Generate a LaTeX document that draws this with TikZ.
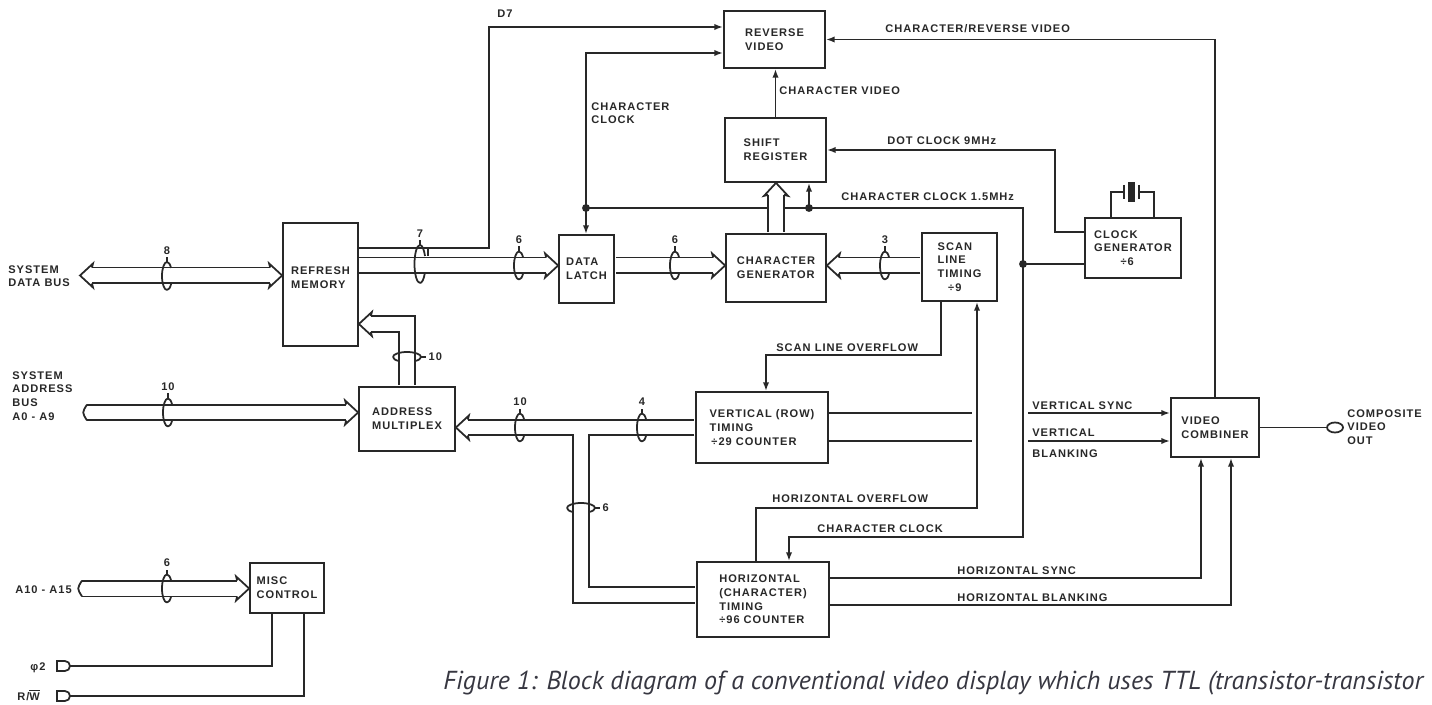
\documentclass[tikz,border=0pt]{standalone}
\usepackage{fontspec}
\newfontfamily\lblfont{Liberation Sans}[LetterSpace=9]
\newfontfamily\capfont{PT Sans}
\usetikzlibrary{arrows.meta,shapes.geometric}

\definecolor{ink}{RGB}{40,40,40}
\definecolor{capink}{RGB}{55,55,65}
\newcommand\lblsize{\lblfont\bfseries\fontsize{6.3}{7.8}\selectfont}

\tikzset{
  sig/.style={draw=ink, line width=1pt},
  arr/.style={sig, -{Latex[length=5pt,width=3.6pt]}},
  block/.style={draw=ink, line width=1pt, align=left, font=\lblsize, text=ink, inner sep=0pt},
  lbl/.style={font=\lblsize, text=ink, inner sep=0pt, align=left},
  bus/.style={draw=ink, line width=1pt, double=white, double distance=0.28cm},
  dot/.style={circle, fill=ink, inner sep=0pt, minimum size=4.5pt},
  term/.style={ellipse, draw=ink, line width=1pt, minimum width=0.32cm, minimum height=0.2cm, inner sep=0pt},
  pics/bhead/.style={code={
    \draw[sig, line join=miter] (-12,-7.9) -- (-13,-12) -- (0,0) -- (-13,12) -- (-12,7.9);
  }},
  pics/hring/.style={code={
    \draw[sig] (0,-14) arc[start angle=270, end angle=90, x radius=5, y radius=14];
    \draw[sig] (0,-14) arc[start angle=270, end angle=325, x radius=5, y radius=14];
    \draw[sig] (0,14) arc[start angle=90, end angle=35, x radius=5, y radius=14];
    \draw[sig] (0,-14) -- (0,-19) node[lbl, anchor=south, yshift=1pt] (-n) {#1};
  }},
  pics/vring/.style={code={
    \draw[sig] (-14,0) arc[start angle=180, end angle=360, x radius=14, y radius=5];
    \draw[sig] (-14,0) arc[start angle=180, end angle=125, x radius=14, y radius=5];
    \draw[sig] (14,0) arc[start angle=0, end angle=55, x radius=14, y radius=5];
    \draw[sig] (14,0) -- (19,0) node[lbl, anchor=west, xshift=1pt] (-n) {#1};
  }},
}

\begin{document}
\begin{tikzpicture}[x=0.02cm, y=-0.02cm]
\useasboundingbox (0,0) rectangle (1432,705);
\fill[white] (0,0) rectangle (1432,705);

% blocks
\node[block, minimum width=2.02cm, minimum height=1.14cm] (rev) at (774.5,39.5) {REVERSE\\VIDEO};
\node[block, minimum width=2.02cm, minimum height=1.28cm] (shift) at (775.5,150) {SHIFT\\REGISTER};
\node[block, minimum width=1.1cm, minimum height=1.36cm] (latch) at (586.5,269) {DATA\\LATCH};
\node[block, minimum width=2cm, minimum height=1.36cm] (chargen) at (776,268) {CHARACTER\\GENERATOR};
\node[block, minimum width=1.5cm, minimum height=1.36cm] (scan) at (959.5,267) {SCAN\\LINE\\TIMING\\\hspace{6pt}÷9};
\node[block, minimum width=1.92cm, minimum height=1.2cm] (clk) at (1133,248) {CLOCK\\GENERATOR\\\hspace{15pt}÷6};
\node[block, minimum width=1.5cm, minimum height=2.46cm] (refresh) at (320.5,284.5) {REFRESH\\MEMORY\\[0pt]};
\node[block, minimum width=1.92cm, minimum height=1.28cm] (addr) at (407,419) {ADDRESS\\MULTIPLEX};
\node[block, minimum width=2.64cm, minimum height=1.42cm] (vert) at (762,427.5) {VERTICAL (ROW)\\TIMING\\\,÷29 COUNTER};
\node[block, minimum width=2.64cm, minimum height=1.5cm] (horiz) at (763,599.5) {HORIZONTAL\\(CHARACTER)\\TIMING\\÷96 COUNTER};
\node[block, minimum width=1.76cm, minimum height=1.18cm] (comb) at (1215,427.5) {VIDEO\\COMBINER};
\node[block, minimum width=1.48cm, minimum height=1cm] (misc) at (287,588) {MISC\\CONTROL};

% D7 and character clock
\coordinate (d7) at (489,248);
\coordinate (d7top) at (489,27);
\draw[arr] (refresh.east |- d7) -- (d7) -- (d7top) -- (d7top -| rev.west);
\coordinate (ccj) at (586,208);
\coordinate (cctop) at (586,53);
\coordinate (ccs) at (809,208);
\coordinate (ccr) at (1023,208);
\coordinate (ccc) at (1023,264);
\coordinate (ccb) at (1023,537);
\coordinate (cch) at (789,537);
\draw[arr] (ccj) -- (cctop) -- (cctop -| rev.west);
\draw[arr] (ccj) -- (ccj |- latch.north);
\draw[arr] (ccj) -- (ccr) -- (ccb) -- (cch) -- (cch |- horiz.north);
\draw[arr] (ccs) -- (ccs |- shift.south);
\draw[sig] (ccc) -- (ccc -| clk.west);

% video and dot clock
\draw[arr] (shift.north) -- (shift.north |- rev.south);
\coordinate (dcb) at (1055,232);
\coordinate (dct) at (1055,150);
\draw[arr] (dcb -| clk.west) -- (dcb) -- (dct) -- (dct -| shift.east);
\coordinate (crv) at (1215,39.5);
\draw[arr] (comb.north) -- (crv) -- (crv -| rev.east);

% crystal
\draw[sig] ([xshift=-0.44cm]clk.north) |- (1124,192);
\draw[sig] ([xshift=0.42cm]clk.north) |- (1139,192);
\draw[sig] (1124,185) -- (1124,199) (1139,185) -- (1139,199);
\fill[ink] (1128,182) rectangle (1135,202);

% timing chain
\coordinate (slo) at (941,355);
\coordinate (slo2) at (766,355);
\draw[arr] (slo |- scan.south) -- (slo) -- (slo2) -- (slo2 |- vert.north);
\coordinate (hof) at (756,508);
\coordinate (hof2) at (977,508);
\draw[arr] (hof |- horiz.north) -- (hof) -- (hof2) -- (hof2 |- scan.south);

% sync and blanking
\coordinate (vs1) at (972,413);
\coordinate (vs2) at (1028,413);
\coordinate (vb1) at (972,441);
\coordinate (vb2) at (1028,441);
\draw[sig] (vs1 -| vert.east) -- (vs1);
\draw[arr] (vs2) -- (vs2 -| comb.west);
\draw[sig] (vb1 -| vert.east) -- (vb1);
\draw[arr] (vb2) -- (vb2 -| comb.west);
\coordinate (hs) at (1201,578);
\coordinate (hb) at (1231,605);
\draw[arr] (hs -| horiz.east) -- (hs) -- (hs |- comb.south);
\draw[arr] (hb -| horiz.east) -- (hb) -- (hb |- comb.south);
\node[term] (cvo) at (1335,427.5) {};
\draw[sig] (comb.east) -- (cvo.west);

% misc control outputs
\coordinate (phi) at (272,666);
\coordinate (rw) at (304,696);
\coordinate (phiT) at (70,666);
\coordinate (rwT) at (70,696);
\draw[sig] (phi |- misc.south) -- (phi) -- (phiT);
\draw[sig] (rw |- misc.south) -- (rw) -- (rwT);
\draw[sig] (phiT) ++(-13,-5) -- ++(8,0) arc[start angle=270, end angle=450, radius=5] -- ++(-8,0) -- cycle;
\draw[sig] (rwT) ++(-13,-5) -- ++(8,0) arc[start angle=270, end angle=450, radius=5] -- ++(-8,0) -- cycle;

% buses
\coordinate (sdb) at (80,275.5);
\draw[bus, shorten <=0.24cm, shorten >=0.24cm] (sdb) -- (sdb -| refresh.west);
\pic[rotate=180] at (sdb) {bhead};
\pic at (sdb -| refresh.west) {bhead};
\coordinate (rlb) at (358,265.5);
\draw[bus, shorten <=0.5pt, shorten >=0.24cm] (rlb) -- (rlb -| latch.west);
\pic at (rlb -| latch.west) {bhead};
\draw[bus, shorten <=0.5pt, shorten >=0.24cm] (rlb -| latch.east) -- (rlb -| chargen.west);
\pic at (rlb -| chargen.west) {bhead};
\draw[bus, shorten <=0.5pt, shorten >=0.24cm] (rlb -| scan.west) -- (rlb -| chargen.east);
\pic[rotate=180] at (rlb -| chargen.east) {bhead};
\draw[bus, shorten <=0.5pt, shorten >=0.24cm] (chargen.north) -- (chargen.north |- shift.south);
\pic[rotate=90] at (chargen.north |- shift.south) {bhead};
\coordinate (sab) at (87,412.5);
\draw[bus, shorten >=0.24cm] (sab) -- (sab -| addr.west);
\pic at (sab -| addr.west) {bhead};
\draw[sig] (87,404.6) .. controls (82,412.5) .. (87,420.4);
\draw[bus, shorten <=0.5pt, shorten >=0.24cm] (vert.west) -- (vert.west -| addr.east);
\pic[rotate=180] at (vert.west -| addr.east) {bhead};
\coordinate (tj) at (581,427.5);
\coordinate (tb) at (581,595);
\draw[bus, shorten >=0.5pt] (tj) -- (tb) -- (tb -| horiz.west);
\draw[white, line width=0.28cm] (570,427.5) -- (592,427.5);
\coordinate (amr) at (407,324);
\draw[bus, shorten <=0.5pt, shorten >=0.24cm] (addr.north) -- (amr) -- (amr -| refresh.east);
\pic[rotate=180] at (amr -| refresh.east) {bhead};
\coordinate (mcb) at (82,588.5);
\draw[bus, shorten >=0.24cm] (mcb) -- (mcb -| misc.west);
\pic at (mcb -| misc.west) {bhead};
\draw[sig] (82,580.6) .. controls (77,588.5) .. (82,596.4);

% rings
\pic (r8) at (167,276) {hring=8};
\draw[sig] (420,245) arc[start angle=270, end angle=90, x radius=5.5, y radius=19];
\draw[sig] (420,245) arc[start angle=270, end angle=335, x radius=5.5, y radius=19];
\draw[sig] (420,283) arc[start angle=90, end angle=30, x radius=5.5, y radius=19];
\draw[sig] (420,245) -- (420,240) node[lbl, anchor=south, yshift=1pt] (r7) {7};
\draw[sig] (428,248) -- (428,256);
\pic (r6a) at (519,265.5) {hring=6};
\pic (r6b) at (675,265.5) {hring=6};
\pic (r3) at (885,265.5) {hring=3};
\pic (r10a) at (168,412.5) {hring=10};
\pic (r10b) at (520,427.5) {hring=10};
\pic (r4) at (642,427.5) {hring=4};
\pic (r10c) at (407,357) {vring=10};
\pic (r6c) at (581,508) {vring=6};
\pic (r6d) at (167,588.5) {hring=6};

% junctions
\node[dot] (dj1) at (ccj) {};
\node[dot] (dj2) at (ccs) {};
\node[dot] (dj3) at (ccc) {};

% labels
\node[lbl, anchor=base west] (d7lab) at (497,18) {D7};
\node[lbl, anchor=north west] (cclab) at (591,102) {CHARACTER\\CLOCK};
\node[lbl, anchor=base west] (cvlab) at (779,95) {CHARACTER VIDEO};
\node[lbl, anchor=base west] (dclab) at (887,145) {DOT CLOCK 9MHz};
\node[lbl, anchor=base west] (crvlab) at (885,33) {CHARACTER/REVERSE VIDEO};
\node[lbl, anchor=base west] (cc15lab) at (841,201) {CHARACTER CLOCK 1.5MHz};
\node[lbl, anchor=base west] (slolab) at (776,352) {SCAN LINE OVERFLOW};
\node[lbl, anchor=base west] (vslab) at (1032,409) {VERTICAL SYNC};
\node[lbl, anchor=base west] (vblab) at (1032,437) {VERTICAL};
\node[lbl, anchor=base west] (vblab2) at (1032,457) {BLANKING};
\node[lbl, anchor=base west] (hoflab) at (772,502) {HORIZONTAL OVERFLOW};
\node[lbl, anchor=base west] (cclab2) at (817,532) {CHARACTER CLOCK};
\node[lbl, anchor=base west] (hslab) at (957,574) {HORIZONTAL SYNC};
\node[lbl, anchor=base west] (hblab) at (957,601) {HORIZONTAL BLANKING};
\node[lbl, anchor=north west] (cvolab) at (1347,409) {COMPOSITE\\VIDEO\\OUT};
\node[lbl, anchor=north west] (sdblab) at (8,265) {SYSTEM\\DATA BUS};
\node[lbl, anchor=north west] (sablab) at (12,371) {SYSTEM\\ADDRESS\\BUS\\A0 - A9};
\node[lbl, anchor=base west] (alab) at (15,593) {A10 - A15};
\node[lbl, anchor=base west] (philab) at (30,670) {φ2};
\node[lbl, anchor=base west] (rwlab) at (17,700) {R/$\overline{\hbox{W}}$};

% caption
\node[font=\capfont\itshape\fontsize{14.8}{17}\selectfont, text=capink, anchor=base west, inner sep=0pt] (cap) at (443,689) {Figure 1: Block diagram of a conventional video display which uses TTL (transistor-transistor};
\end{tikzpicture}
\end{document}
